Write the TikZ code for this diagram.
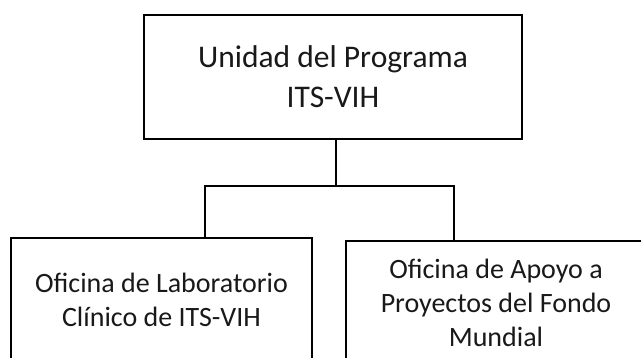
\documentclass[tikz,border=0pt]{standalone}
\usepackage{fontspec}
\setmainfont{Carlito}
\begin{document}
\begin{tikzpicture}[x=1pt,y=-1pt,
  box/.style={draw=black,line width=2.5pt,fill=white,rectangle,align=center,outer sep=0pt,inner sep=0pt,text=black!90},
  topfont/.style={font=\fontsize{31.5}{40}\selectfont},
  lowfont/.style={font=\fontsize{28}{34}\selectfont},
  conn/.style={draw=black,line width=2.5pt}]
\useasboundingbox (0,0) rectangle (641,358);
\node[box,topfont,minimum width=378pt,minimum height=124pt] (top) at (333,77) {Unidad del Programa\\ITS-VIH};
\node[box,lowfont,minimum width=301pt,minimum height=124pt] (left) at (161.5,300) {Oficina de Laboratorio\\Clínico de ITS-VIH};
\node[box,lowfont,minimum width=300pt,minimum height=124.4pt] (right) at (496,303.2) {Oficina de Apoyo a\\Proyectos del Fondo\\Mundial};
\coordinate (j) at (336,186);
\coordinate (jl) at (205,186);
\coordinate (jr) at (454,186);
\draw[conn] (top.south -| j) -- (j);
\draw[conn] (jl |- left.north) -- (jl) -- (jr) -- (jr |- right.north);
\end{tikzpicture}
\end{document}
